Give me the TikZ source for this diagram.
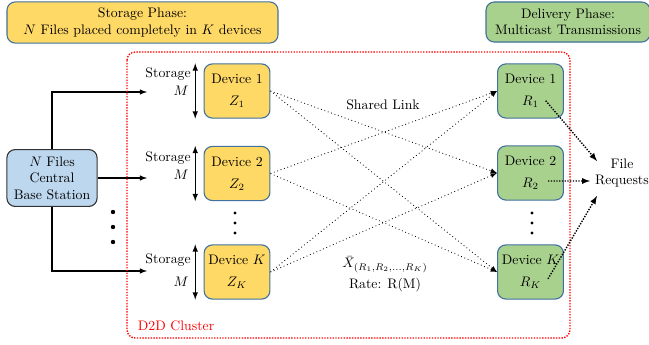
\documentclass[tikz,border=0pt]{standalone}
\usepackage{amssymb}
\usepackage{amsmath}
\usepackage{tikz}
\definecolor{cacheyellow}{RGB}{255,217,102}
\definecolor{deliverygreen}{RGB}{169,209,142}
\definecolor{stationblue}{RGB}{189,215,238}
\definecolor{boxborder}{RGB}{65,113,156}
\definecolor{clusterred}{RGB}{255,0,0}
\pgfdeclarelayer{edgelayer}
\pgfdeclarelayer{nodelayer}
\pgfsetlayers{edgelayer,nodelayer,main}
\tikzstyle{phase}=[rectangle,rounded corners=6pt,draw=boxborder,thick,align=center,inner sep=0pt]
\tikzstyle{cache}=[rectangle,rounded corners=6pt,fill=cacheyellow,draw=boxborder,thick,align=center,minimum width=1.68cm,minimum height=1.38cm,inner sep=0pt]
\tikzstyle{user}=[rectangle,rounded corners=6pt,fill=deliverygreen,draw=boxborder,thick,align=center,minimum width=1.68cm,minimum height=1.38cm,inner sep=0pt]
\tikzstyle{station}=[rectangle,rounded corners=6pt,fill=stationblue,draw=black!80,thick,align=center,minimum width=2.3cm,minimum height=1.45cm,inner sep=0pt]
\tikzstyle{storelabel}=[align=right,anchor=east,inner sep=0pt]
\tikzstyle{link}=[->,dotted,line width=0.6pt]
\tikzstyle{request}=[->,densely dotted,line width=1pt]

\begin{document}
\begin{tikzpicture}[x=0.0255cm,y=-0.0255cm,>=latex]
            \useasboundingbox (0,0) rectangle (649,345);

            % cluster frame
            \draw [clusterred, densely dotted, line width=1pt, rounded corners=6pt] (127,52) rectangle (570,338);
            \node [text=clusterred] (d2d) at (176,326) {D2D Cluster};

            \begin{pgfonlayer}{nodelayer}
            \node [style = phase, fill=cacheyellow, minimum width=6.91cm, minimum height=1.05cm] (storage) at (142.5,22.5) {Storage Phase:\\$N$ Files placed completely in $K$ devices};
            \node [style = phase, fill=deliverygreen, minimum width=4.18cm, minimum height=1.02cm] (delivery) at (568,22) {Delivery Phase:\\Multicast Transmissions};

            \node [style = station] (bs) at (52,178) {$N$ Files\\Central\\Base Station};

            \node [style = cache] (z1) at (237,91) {Device 1\\[4pt]$Z_1$};
            \node [style = cache] (z2) at (237,173.5) {Device 2\\[4pt]$Z_2$};
            \node [style = cache] (zk) at (237,272) {Device $K$\\[4pt]$Z_K$};

            \node [style = user] (r1) at (530.5,91) {Device 1\\[4pt]$R_1$};
            \node [style = user] (r2) at (530.5,173) {Device 2\\[4pt]$R_2$};
            \node [style = user] (rk) at (530.5,272) {Device $K$\\[4pt]$R_K$};

            \node [style = storelabel] (m1) at (191,82) {Storage\\[1pt]$M$\,};
            \node [style = storelabel] (m2) at (191,166) {Storage\\[1pt]$M$\,};
            \node [style = storelabel] (mk) at (191,270) {Storage\\[5pt]$M$\,};

            \node (shared) at (383,105) {Shared Link};
            \node [align=center] (xbar) at (385,274) {$\bar{X}_{(R_1,R_2,\ldots,R_K)}$\\[3pt]Rate: R(M)};
            \node [align=center] (files) at (622,173) {File\\Requests};
            \end{pgfonlayer}

            \coordinate (in1) at (147,92);
            \coordinate (in2) at (147,178);
            \coordinate (ink) at (147,271);
            \coordinate (req1) at (597,161);
            \coordinate (req2) at (590,181);
            \coordinate (reqk) at (597,196);

            % dots
            \foreach \y in {212,227,242} \fill (113,\y) circle (2.2);
            \foreach \y in {213,223,233} {
                \fill (235,\y) circle (1.6);
                \fill (532,\y) circle (1.6);
            }

        \begin{pgfonlayer}{edgelayer}
            \draw [->, thick] (bs.north) |- (in1);
            \draw [->, thick] (bs.east) -- (in2);
            \draw [->, thick] (bs.south) |- (ink);

            \draw [<->, thick] ([xshift=-6pt]z1.north west) -- ([xshift=-6pt]z1.south west);
            \draw [<->, thick] ([xshift=-6pt]z2.north west) -- ([xshift=-6pt]z2.south west);
            \draw [<->, thick] ([xshift=-6pt]zk.north west) -- ([xshift=-6pt]zk.south west);

            \draw [style = link] (z1.east) to (r2.west);
            \draw [style = link] (z1.east) to (rk.west);
            \draw [style = link] (z2.east) to (r1.west);
            \draw [style = link] (z2.east) to (rk.west);
            \draw [style = link] (zk.east) to (r1.west);
            \draw [style = link] (zk.east) to (r2.west);
        \end{pgfonlayer}

            \draw [style = request] ([xshift=11pt,yshift=-7pt]r1.center) to (req1);
            \draw [style = request] ([xshift=12.7pt,yshift=-5.8pt]r2.center) to (req2);
            \draw [style = request] ([xshift=12.7pt,yshift=-5pt]rk.center) to (reqk);
    \end{tikzpicture}
\end{document}
